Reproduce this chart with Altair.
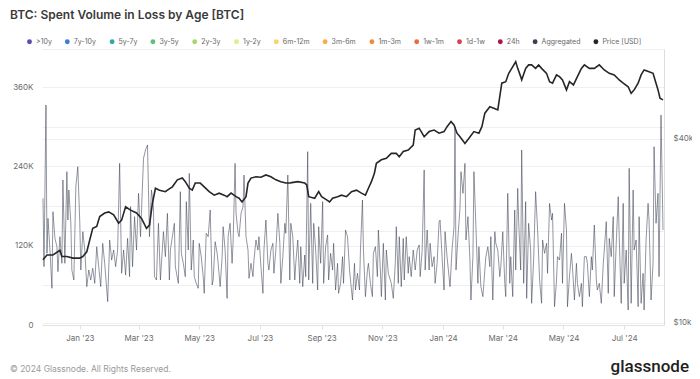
import altair as alt
import pandas as pd

# ---------------- data ----------------
START = "2022-11-25"

# Aggregated spent volume in loss (thousand BTC) at day offsets from START
vol_days = [0,1,3,4,5,7,9,10,12,14,15,17,19,20,22,24,25,26,28,29,31,33,35,37,38,40,42,44,46,48,
            50,52,54,56,58,60,62,65,67,69,71,73,75,77,79,81,83,85,87,88,90,92,94,96,98,101,103,105,107,109,
            111,112,114,116,118,121,123,
            125,127,128,130,132,133,136,138,139,141,143,144,146,147,149,151,152,154,156,157,
            159,161,162,164,166,168,170,171,173,175,176,178,180,181,183,185,186,188,190,191,
            193,194,196,197,199,201,202,204,206,207,209,211,212,214,216,217,219,221,222,224,
            226,227,229,231,232,234,236,238,239,241,243,244,246,248,
            249,251,253,254,256,258,259,261,263,264,266,267,269,271,272,274,276,277,279,281,
            282,284,286,287,289,291,292,294,296,297,299,301,302,304,306,308,309,311,313,314,
            316,318,319,321,322,324,326,327,329,331,332,334,336,337,339,340,342,344,345,347,
            349,350,352,354,355,357,358,360,362,363,365,367,368,370,372,
            374,376,378,379,381,383,384,386,388,389,391,393,394,396,398,399,401,403,404,406,
            408,409,411,413,414,415,417,419,420,422,424,425,427,429,430,432,433,435,437,438,
            440,442,443,445,447,449,450,452,454,455,457,459,460,462,464,465,467,469,470,472,
            474,475,477,478,480,481,483,485,486,488,490,491,493,495,497,
            499,501,502,504,506,507,509,511,512,514,516,517,519,521,522,524,526,527,529,531,
            532,534,536,537,539,541,542,544,546,547,549,551,552,554,556,557,559,561,563,564,
            566,568,569,571,573,574,576,578,579,581,583,584,586,588,589,591,593,594,596,598,
            599,601,603,604,606,608,609,611,613,614,616,618,619,621,623]
vol_k = [191.6,88.2,332.8,108.4,161.3,113.4,55.5,171.4,131.1,118.5,80.7,133.6,93.3,219.3,93.3,231.9,158.8,204.2,153.8,83.2,
         68.1,209.2,239.5,153.8,83.2,141.2,113.4,58.0,83.2,68.1,85.7,63.0,118.5,88.2,58.0,123.5,93.3,35.3,128.6,98.3,
         113.4,88.2,113.4,244.5,78.2,113.4,75.6,131.1,73.1,179.0,88.2,163.9,113.4,199.2,133.6,252.1,264.7,272.3,133.6,204.2,
         179.0,73.1,68.1,153.8,68.1,141.2,103.4,
         168.9,68.1,113.4,133.6,153.8,88.2,63.0,201.7,108.4,93.3,73.1,186.6,113.4,229.4,83.2,128.6,73.1,63.0,55.5,123.5,
         103.4,73.1,47.9,138.7,133.6,173.9,60.5,68.1,126.0,108.4,93.3,58.0,103.4,148.7,113.4,40.3,133.6,153.8,93.3,123.5,
         244.5,168.9,138.7,133.6,168.9,179.0,226.9,133.6,113.4,70.6,93.3,73.1,98.3,128.6,113.4,133.6,88.2,47.9,113.4,158.8,
         93.3,83.2,113.4,123.5,78.2,113.4,168.9,123.5,63.0,103.4,153.8,138.7,226.9,68.1,
         153.8,133.6,68.1,93.3,128.6,63.0,118.5,58.0,105.9,73.1,262.2,68.1,184.0,63.0,153.8,113.4,52.9,148.7,93.3,186.6,
         63.0,118.5,136.1,68.1,108.4,83.2,123.5,52.9,93.3,47.9,63.0,103.4,63.0,143.7,133.6,83.2,68.1,37.8,93.3,52.9,
         78.2,52.9,113.4,189.1,113.4,42.9,83.2,93.3,63.0,42.9,108.4,118.5,73.1,143.7,83.2,42.9,123.5,37.8,113.4,78.2,
         68.1,63.0,40.3,93.3,148.7,63.0,133.6,58.0,131.1,68.1,133.6,78.2,103.4,73.1,113.4,
         83.2,113.4,121.0,73.1,113.4,234.5,83.2,143.7,83.2,123.5,88.2,103.4,63.0,93.3,156.3,158.8,103.4,52.9,141.2,103.4,
         73.1,58.0,113.4,148.7,300.0,83.2,133.6,176.5,231.9,199.2,244.5,128.6,163.9,98.3,37.8,103.4,231.9,148.7,63.0,118.5,
         58.0,42.9,63.0,103.4,118.5,88.2,133.6,37.8,141.2,123.5,113.4,73.1,88.2,141.2,63.0,42.9,199.2,63.0,103.4,42.9,
         173.9,83.2,206.7,156.3,83.2,264.7,63.0,186.6,40.3,153.8,113.4,32.8,98.3,201.7,143.7,
         68.1,32.8,128.6,108.4,123.5,78.2,184.0,158.8,168.9,27.7,68.1,103.4,98.3,138.7,63.0,184.0,143.7,27.7,73.1,108.4,
         88.2,37.8,93.3,63.0,42.9,63.0,27.7,103.4,103.4,93.3,42.9,103.4,83.2,151.3,68.1,52.9,63.0,32.8,93.3,113.4,
         156.3,47.9,131.1,103.4,163.9,42.9,123.5,194.1,133.6,32.8,184.0,63.0,113.4,22.7,237.0,32.8,204.2,113.4,128.6,27.7,
         163.9,32.8,78.2,22.7,128.6,184.0,158.8,37.8,93.3,269.7,153.8,199.2,73.1,317.6,143.7]

# BTC price (thousand USD) at day offsets from START
price_days = [0,4,10,17,19,24,30,37,40,44,47,50,54,57,62,66,71,76,79,83,88,94,99,104,107,110,113,117,123,
              125,130,135,140,143,147,150,153,158,162,167,172,177,182,185,189,194,197,200,204,206,209,214,219,224,229,234,239,244,248,
              250,256,263,265,267,273,277,280,285,288,291,296,300,305,310,315,320,324,327,330,333,335,340,345,350,355,358,362,367,372,
              374,378,383,388,393,398,403,406,410,413,416,419,424,428,433,438,441,444,449,453,457,461,465,468,471,475,477,480,481,485,488,491,495,
              498,501,506,509,512,516,519,522,526,529,533,537,541,544,549,554,559,564,569,574,579,583,588,591,594,598,601,604,609,613,615,618,620,623]
price_k = [16.1,16.7,16.7,17.3,16.5,16.5,16.3,16.3,16.5,17.1,18.7,20.4,20.7,22.3,22.9,23.1,22.6,21.2,21.7,24.0,23.4,22.9,22.0,20.4,20.9,24.7,27.6,27.2,26.9,
           27.2,27.9,29.4,29.8,29.0,27.6,27.2,28.7,28.7,27.9,26.9,26.2,26.6,26.2,25.9,26.6,25.9,25.6,24.9,25.9,28.7,29.8,30.1,30.0,30.5,30.1,29.4,29.0,28.7,28.7,
           28.8,29.0,28.7,28.3,25.9,25.6,26.9,25.9,25.3,24.9,25.6,25.9,26.2,25.9,26.9,27.2,26.6,26.2,27.6,29.0,30.9,33.3,34.2,34.6,35.9,35.9,35.0,36.4,36.8,38.2,
           42.8,43.4,40.7,42.3,42.8,41.8,42.3,43.9,45.6,44.5,41.8,40.7,38.7,40.2,42.3,41.8,43.9,48.6,51.0,50.4,49.8,60.9,61.6,65.6,68.1,71.6,68.1,64.0,62.4,68.1,69.9,69.9,68.1,
           69.9,68.1,65.6,61.6,60.9,64.8,64.0,62.4,57.9,61.6,60.1,64.0,68.1,69.9,68.1,68.1,69.9,67.3,65.6,64.8,62.4,60.9,59.3,56.4,57.9,60.9,64.8,67.3,66.4,65.6,62.4,57.9,54.4,53.7]

legend_names = [">10y", "7y-10y", "5y-7y", "3y-5y", "2y-3y", "1y-2y", "6m-12m", "3m-6m",
                "1m-3m", "1w-1m", "1d-1w", "24h", "Aggregated", "Price [USD]"]
legend_colors = ["#5b4bb7", "#3b7dd8", "#35a8a3", "#5fbf7b", "#a5d66a", "#e4ea8c", "#f6d46b", "#f5ad4c",
                 "#f28c3b", "#ec6a3f", "#dc3f4f", "#a8154f", "#3b3f52", "#262626"]

x_tick_months = [(2023, 1), (2023, 3), (2023, 5), (2023, 7), (2023, 9), (2023, 11),
                 (2024, 1), (2024, 3), (2024, 5), (2024, 7)]
vol_ticks = [0, 60000, 120000, 180000, 240000, 300000, 360000, 417500]
price_ticks = [10000, 20000, 40000]

TITLE = "BTC: Spent Volume in Loss by Age [BTC]"
FOOTER = "© 2024 Glassnode. All Rights Reserved."
LOGO = "glassnode"

# ---------------- tables ----------------
start = pd.Timestamp(START)
vol_df = pd.DataFrame({"date": start + pd.to_timedelta(vol_days, unit="D"),
                       "volume": [v * 1000 for v in vol_k]})
price_df = pd.DataFrame({"date": start + pd.to_timedelta(price_days, unit="D"),
                         "price": [p * 1000 for p in price_k]})

FONT = "Inter"
x_enc = alt.X(
    "date:T",
    scale=alt.Scale(domain=[alt.DateTime(year=2022, month=11, date=24),
                            alt.DateTime(year=2024, month=8, date=10)]),
    axis=alt.Axis(values=[alt.DateTime(year=y, month=m, date=1) for y, m in x_tick_months],
                  format="%b '%y", title=None, grid=False, labelFontSize=8, labelColor="#6b6b6b",
                  labelFont=FONT, tickSize=4, tickColor="#e2e2e2", domainColor="#e2e2e2",
                  labelPadding=5),
)

vol_line = alt.Chart(vol_df).mark_line(strokeWidth=1, color="#3b3f52", opacity=0.55).encode(
    x=x_enc,
    y=alt.Y("volume:Q",
            scale=alt.Scale(domain=[0, 417500], nice=False),
            axis=alt.Axis(values=vol_ticks, title=None, grid=True, gridColor="#efefef",
                          domain=False, ticks=False, labelPadding=9, labelFontSize=8,
                          labelColor="#6b6b6b", labelFont=FONT,
                          labelExpr="datum.value % 120000 == 0 ? (datum.value == 0 ? '0' : (datum.value / 1000) + 'K') : ''")),
)

price_line = alt.Chart(price_df).mark_line(strokeWidth=1.6, color="#262626").encode(
    x=alt.X("date:T"),
    y=alt.Y("price:Q",
            scale=alt.Scale(type="log", domain=[9850, 78800], nice=False),
            axis=alt.Axis(orient="right", values=price_ticks, title=None, grid=True,
                          gridColor="#efefef", domain=True, domainColor="#dddddd", ticks=False,
                          labelPadding=9, labelFontSize=8, labelColor="#6b6b6b", labelFont=FONT,
                          labelExpr="datum.value == 20000 ? '' : '$' + (datum.value / 1000) + 'k'")),
)

legend_layer = alt.Chart(pd.DataFrame({"series": pd.Series([], dtype="object")})).mark_circle().encode(
    color=alt.Color("series:N",
                    scale=alt.Scale(domain=legend_names, range=legend_colors),
                    legend=alt.Legend(orient="none", legendX=-16, legendY=-11, direction="horizontal",
                                      columns=14, title=None, symbolType="circle", symbolSize=24,
                                      symbolStrokeWidth=0, symbolOpacity=1, labelFontSize=7,
                                      labelColor="#666666", labelFont=FONT, columnPadding=11.8,
                                      labelOffset=3)),
)

footer = alt.Chart(pd.DataFrame({"t": [FOOTER]})).mark_text(
    align="left", baseline="middle", fontSize=8.5, color="#9a9a9a", font=FONT
).encode(text="t:N", x=alt.value(-32), y=alt.value(320))

logo = alt.Chart(pd.DataFrame({"t": [LOGO]})).mark_text(
    align="right", baseline="middle", fontSize=17, fontWeight=500, color="#1f1f1f", font="Roboto"
).encode(text="t:N", x=alt.value(647), y=alt.value(318))

chart = alt.layer(vol_line, price_line, legend_layer, footer, logo).resolve_scale(
    y="independent"
).properties(
    width=622, height=276,
    title=alt.TitleParams(TITLE, anchor="start", frame="group", fontSize=12, fontWeight=600,
                          color="#3a3a3a", font=FONT, dx=-32, offset=16),
    autosize=alt.AutoSizeParams(type="none"),
    padding={"left": 34, "top": 41, "right": 28, "bottom": 50},
).configure_view(stroke=None)

chart.save("out.html", embed_options={"renderer": "svg", "actions": False})
